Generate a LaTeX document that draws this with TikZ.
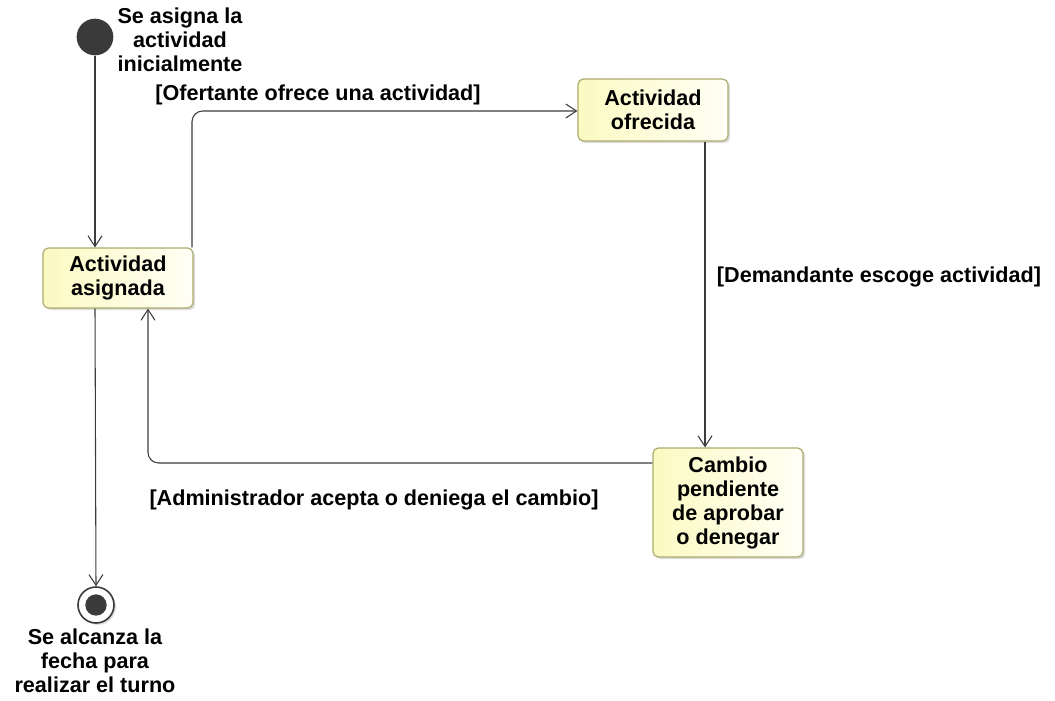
\documentclass[tikz,border=0pt]{standalone}
\usepackage{fontspec}
\setmainfont{Liberation Sans}
\usetikzlibrary{arrows.meta,shadows}
\definecolor{edgecol}{HTML}{3C3C3C}
\definecolor{boxborder}{HTML}{ADAB6E}
\definecolor{boxleft}{HTML}{FBFAC2}
\definecolor{boxright}{HTML}{FFFFF6}
\definecolor{dotfill}{HTML}{3A3A3A}
\begin{document}
\begin{tikzpicture}[x=0.75pt,y=-0.75pt,
  every node/.style={font=\fontsize{16.2}{18}\selectfont\bfseries, align=center, inner sep=0pt},
  statebox/.style={draw=boxborder, line width=0.9pt, rounded corners=4pt,
    left color=boxleft, right color=boxright, minimum width=112.5pt,
    drop shadow={opacity=0.28, shadow xshift=1.6pt, shadow yshift=-1.6pt}},
  flow/.style={draw=edgecol, line width=0.8pt, -{Straight Barb[length=8pt,width=10.5pt,line width=0.8pt]}},
  guard/.style={text=black},
  startdot/.style={circle, fill=dotfill, minimum size=27.5pt},
  enddot/.style={circle, draw=edgecol, fill=white, line width=1.2pt, minimum size=27pt,
    drop shadow={opacity=0.28, shadow xshift=1.4pt, shadow yshift=-1.4pt}},
  enddotin/.style={circle, fill=dotfill, minimum size=16pt}]
\useasboundingbox (0,0) rectangle (1055,700);

% states
\node[statebox, minimum height=45pt] (asignada) at (118,278) {Actividad\\asignada};
\node[statebox, minimum height=46.5pt] (ofrecida) at (653,110) {Actividad\\ofrecida};
\node[statebox, minimum height=81.75pt] (cambio) at (728,502.5) {Cambio\\pendiente\\de aprobar\\o denegar};

% initial and final pseudostates
\node[startdot] (init) at (95,37) {};
\node (initlabel) at (180,40) {Se asigna la\\actividad\\inicialmente};
\node[enddot] (final) at (96,605) {};
\node[enddotin] (finalin) at (final.center) {};
\node (finallabel) at (95,661) {Se alcanza la\\fecha para\\realizar el turno};

% transitions
\draw[flow] (init.south) -- (init |- asignada.north);
\draw[flow, rounded corners=8pt] (asignada.north -| 192,0) |- (ofrecida.west |- 0,111);
\node[guard] (g1) at (318,95) {[Ofertante ofrece una actividad]};
\draw[flow] (ofrecida.south -| 705,0) -- (cambio.north -| 705,0);
\node[guard] (g2) at (879,277) {[Demandante escoge actividad]};
\draw[flow, rounded corners=8pt] (cambio.west |- 0,463) -| (asignada.south -| 148,0);
\node[guard] (g3) at (374,500) {[Administrador acepta o deniega el cambio]};
\draw[flow] (asignada.south -| 95,0) -- (final.north);
\end{tikzpicture}
\end{document}
